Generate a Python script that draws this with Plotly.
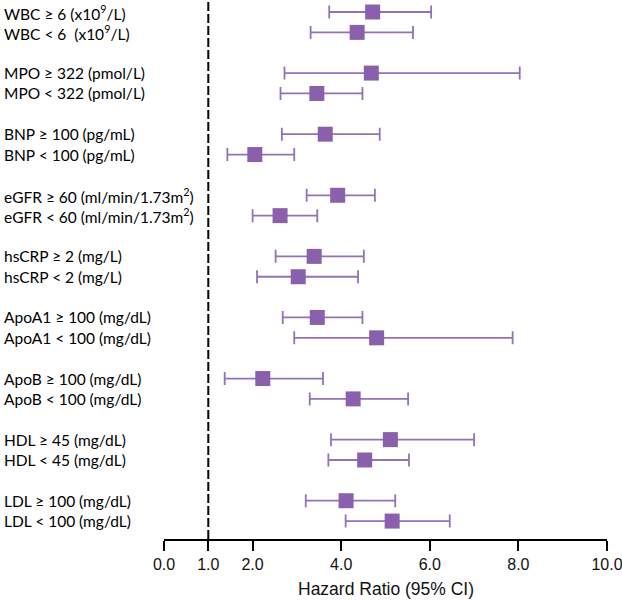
import plotly.graph_objects as go

# subgroup labels, top to bottom (pairs of >= / < cut-offs)
labels = [
    "WBC ≥ 6 (x10<sup>9</sup>/L)",
    "WBC &lt; 6\u00a0 (x10<sup>9</sup>/L)",
    "MPO ≥ 322 (pmol/L)",
    "MPO &lt; 322 (pmol/L)",
    "BNP ≥ 100 (pg/mL)",
    "BNP &lt; 100 (pg/mL)",
    "eGFR ≥ 60 (ml/min/1.73m<sup>2</sup>)",
    "eGFR &lt; 60 (ml/min/1.73m<sup>2</sup>)",
    "hsCRP ≥ 2 (mg/L)",
    "hsCRP &lt; 2 (mg/L)",
    "ApoA1 ≥ 100 (mg/dL)",
    "ApoA1 &lt; 100 (mg/dL)",
    "ApoB ≥ 100 (mg/dL)",
    "ApoB &lt; 100 (mg/dL)",
    "HDL ≥ 45 (mg/dL)",
    "HDL &lt; 45 (mg/dL)",
    "LDL ≥ 100 (mg/dL)",
    "LDL &lt; 100 (mg/dL)",
]
hr = [4.71, 4.36, 4.68, 3.45, 3.64, 2.05, 3.92, 2.62, 3.39,
      3.03, 3.46, 4.80, 2.23, 4.27, 5.11, 4.53, 4.11, 5.15]
ci_low = [3.73, 3.31, 2.72, 2.63, 2.66, 1.43, 3.22, 2.00, 2.52,
          2.10, 2.68, 2.94, 1.37, 3.29, 3.77, 3.71, 3.20, 4.10]
ci_high = [6.03, 5.62, 8.03, 4.48, 4.87, 2.94, 4.76, 3.46, 4.51,
           4.38, 4.48, 7.87, 3.59, 5.51, 7.00, 5.53, 5.22, 6.45]
tick_vals = [0, 1, 2, 4, 6, 8, 10]
tick_text = ["0.0", "1.0", "2.0", "4.0", "6.0", "8.0", "10.0"]

# one blank row between each pair
rows = [i + i // 2 for i in range(len(labels))]

fig = go.Figure()
fig.add_trace(go.Scatter(
    x=hr,
    y=rows,
    mode="markers",
    marker=dict(symbol="square", size=15, color="#8a60ad"),
    error_x=dict(
        type="data",
        symmetric=False,
        array=[h - m for h, m in zip(ci_high, hr)],
        arrayminus=[m - l for m, l in zip(hr, ci_low)],
        color="#9272b8",
        thickness=1.8,
        width=6.5,
    ),
    showlegend=False,
))

for lab, r in zip(labels, rows):
    fig.add_annotation(
        x=-0.366, xref="paper", xanchor="left",
        y=r, yref="y", yanchor="middle",
        text=lab, showarrow=False,
        font=dict(family="Lato", size=15.5, color="black"),
    )

# axis title as an annotation, ~50px below the axis line
fig.add_annotation(
    x=0.5, xref="paper", xanchor="center",
    y=-50 / 539, yref="paper", yanchor="middle",
    text="Hazard Ratio (95% CI)", showarrow=False,
    font=dict(family="Liberation Sans", size=17.5, color="#111"),
)

# reference line at HR = 1
fig.add_shape(type="line", x0=1, x1=1, xref="x", y0=0, y1=1, yref="paper",
              line=dict(color="black", width=2, dash="9px,3px"))

fig.update_xaxes(
    range=[0, 10],
    tickvals=tick_vals,
    ticktext=tick_text,
    showline=True,
    linecolor="black",
    linewidth=1.5,
    ticks="outside",
    ticklen=10,
    tickwidth=1.5,
    tickcolor="black",
    showgrid=False,
    zeroline=False,
    automargin=False,
    ticklabeloverflow="allow",
    tickfont=dict(family="Liberation Sans", size=16, color="#111"),
)
fig.update_yaxes(range=[25.88, -0.59], visible=False, showgrid=False,
                 zeroline=False, automargin=False)

fig.update_layout(
    width=622,
    height=600,
    margin=dict(l=164, r=15, t=0, b=61),
    plot_bgcolor="white",
    paper_bgcolor="white",
)

fig.write_html("out.html", config={"displayModeBar": False},
               post_script="document.body.style.margin='0';")
